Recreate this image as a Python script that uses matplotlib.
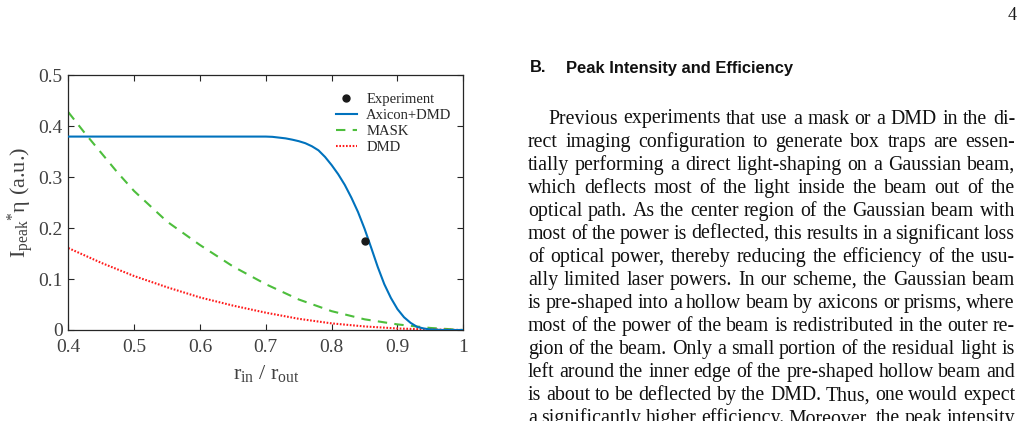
import matplotlib
matplotlib.use("Agg")
import matplotlib.pyplot as plt

plt.rcParams['mathtext.fontset'] = 'custom'
plt.rcParams['mathtext.rm'] = 'Liberation Serif'
plt.rcParams['mathtext.it'] = 'Liberation Serif:italic'
plt.rcParams['font.family'] = ['Liberation Serif', 'DejaVu Serif']

# ---------------- data ----------------
axicon_x = [0.40, 0.50, 0.60, 0.70, 0.71, 0.72, 0.73, 0.74, 0.75, 0.76, 0.77, 0.78, 0.79,
            0.80, 0.81, 0.82, 0.83, 0.84, 0.85, 0.86, 0.87, 0.88, 0.89, 0.90, 0.91,
            0.92, 0.93, 0.94, 0.95, 0.97, 1.00]
axicon_y = [0.380, 0.380, 0.380, 0.380, 0.3795, 0.378, 0.3765, 0.374, 0.371, 0.367, 0.361, 0.353, 0.340,
            0.324, 0.306, 0.285, 0.260, 0.232, 0.199, 0.162, 0.124, 0.090, 0.063, 0.041, 0.025,
            0.014, 0.006, 0.003, 0.001, 0.0, 0.0]

mask_x = [0.40, 0.425, 0.45, 0.475, 0.50, 0.55, 0.60, 0.65, 0.70, 0.75, 0.80, 0.85, 0.90, 0.95, 1.00]
mask_y = [0.428, 0.387, 0.348, 0.309, 0.273, 0.213, 0.167, 0.125, 0.090, 0.060, 0.037, 0.021, 0.011, 0.004, 0.0]

dmd_x = [0.40, 0.45, 0.50, 0.55, 0.60, 0.65, 0.70, 0.75, 0.80, 0.85, 0.90, 0.95, 1.00]
dmd_y = [0.161, 0.132, 0.106, 0.084, 0.064, 0.048, 0.034, 0.022, 0.013, 0.007, 0.003, 0.001, 0.0]

exp_x = [0.85]
exp_y = [0.175]

xticks = [0.4, 0.5, 0.6, 0.7, 0.8, 0.9, 1.0]
xticklabels = ['0.4', '0.5', '0.6', '0.7', '0.8', '0.9', '1']
yticks = [0, 0.1, 0.2, 0.3, 0.4, 0.5]
yticklabels = ['0', '0.1', '0.2', '0.3', '0.4', '0.5']

heading_num = "B."
heading_txt = "Peak Intensity and Efficiency"
page_num = "4"
body_lines = [
    "Previous experiments that use a mask or a DMD in the di-",
    "rect imaging configuration to generate box traps are essen-",
    "tially performing a direct light-shaping on a Gaussian beam,",
    "which deflects most of the light inside the beam out of the",
    "optical path.  As the center region of the Gaussian beam with",
    "most of the power is deflected, this results in a significant loss",
    "of optical power, thereby reducing the efficiency of the usu-",
    "ally limited laser powers.  In our scheme, the Gaussian beam",
    "is pre-shaped into a hollow beam by axicons or prisms, where",
    "most of the power of the beam is redistributed in the outer re-",
    "gion of the beam. Only a small portion of the residual light is",
    "left around the inner edge of the pre-shaped hollow beam and",
    "is about to be deflected by the DMD. Thus, one would expect",
    "a significantly higher efficiency. Moreover, the peak intensity",
]

# ---------------- figure ----------------
W, H = 1025, 421
fig = plt.figure(figsize=(W / 100, H / 100), dpi=100)
fig.patch.set_facecolor('white')

def fx(px):
    return px / W

def fy(py):
    return 1 - py / H

ax = fig.add_axes([fx(68.3), fy(330), (463.3 - 68.3) / W, (330 - 75.5) / H])
axc = '#262626'
ax.plot(axicon_x, axicon_y, color='#0072BD', lw=1.5, label='Axicon+DMD', zorder=3)
ax.plot(mask_x, mask_y, color='#4DBE3C', lw=1.5, ls=(0, (4.5, 3.5)), label='MASK', zorder=2)
ax.plot(dmd_x, dmd_y, color='#FF1A1A', lw=1.5, ls=(0, (0.8, 0.8)), label='DMD', zorder=2)
ax.plot(exp_x, exp_y, 'o', color='#1a1a1a', ms=5, label='Experiment', zorder=4)

ax.set_xlim(0.4, 1.0)
ax.set_ylim(0, 0.5)
ax.set_xticks(xticks)
ax.set_xticklabels(xticklabels)
ax.set_yticks(yticks)
ax.set_yticklabels(yticklabels)
ax.tick_params(direction='in', top=True, right=True, length=4, width=0.8,
               colors=axc, labelcolor='#404040', labelsize=14)
ax.tick_params(axis='x', pad=6.5)
ax.tick_params(axis='y', pad=4)
for s in ax.spines.values():
    s.set_color(axc)
    s.set_linewidth(0.9)

ax.set_xlabel(r'$\mathrm{r_{in}\ /\ r_{out}}$', fontsize=16, color='#404040', labelpad=5)
ax.set_ylabel(r'$\mathrm{I_{peak}{}^{*}η}$ (a.u.)', fontsize=16, color='#404040', labelpad=2)

h, l = ax.get_legend_handles_labels()
order = [3, 0, 1, 2]
leg = ax.legend([h[i] for i in order], [l[i] for i in order], loc='upper right',
                frameon=False, fontsize=10.5, handlelength=1.5, handletextpad=0.6,
                labelspacing=0.2, borderaxespad=0.0, bbox_to_anchor=(0.985, 0.955))
for t in leg.get_texts():
    t.set_color('#262626')

# ---------------- text column ----------------
renderer = fig.canvas.get_renderer()

def text_width(s, **kw):
    t = fig.text(0, 0, s, **kw)
    w = t.get_window_extent(renderer).width
    t.remove()
    return w

# page number
fig.text(fx(1012), fy(20), page_num, fontsize=13, ha='center', va='baseline', color='#1a1a1a')

# heading (scaled so width matches)
hkw = dict(family='Liberation Sans', weight='bold')
hw = text_width(heading_txt, fontsize=12, **hkw)
hfs = 12 * 226 / hw
fig.text(fx(530), fy(72.5), heading_num, fontsize=hfs, va='baseline', color='#111111', **hkw)
fig.text(fx(566), fy(72.5), heading_txt, fontsize=hfs, va='baseline', color='#111111', **hkw)

# body: justified; font size chosen so the tightest line has slightly shrunk spaces
left, right = 528.0, 1015.0
base0, lstep = 123.5, 23.05
ref_fs = 14.0
space_w = text_width('a b', fontsize=ref_fs) - text_width('ab', fontsize=ref_fs)
scales = []
for i, line in enumerate(body_lines):
    words = line.split()
    x0 = left + (20 if i == 0 else 0)
    ws = sum(text_width(w, fontsize=ref_fs) for w in words)
    scales.append((right - x0) / (ws + 0.8 * space_w * (len(words) - 1)))
bfs = ref_fs * min(scales)

for i, line in enumerate(body_lines):
    words = line.split()
    x0 = left + (20 if i == 0 else 0)
    widths = [text_width(w, fontsize=bfs) for w in words]
    gap = (right - x0 - sum(widths)) / (len(words) - 1)
    x = x0
    yb = base0 + i * lstep
    for w, ww in zip(words, widths):
        fig.text(fx(x), fy(yb), w, fontsize=bfs, va='baseline', ha='left', color='#111111')
        x += ww + gap

fig.savefig('out.png', dpi=100, facecolor='white')
